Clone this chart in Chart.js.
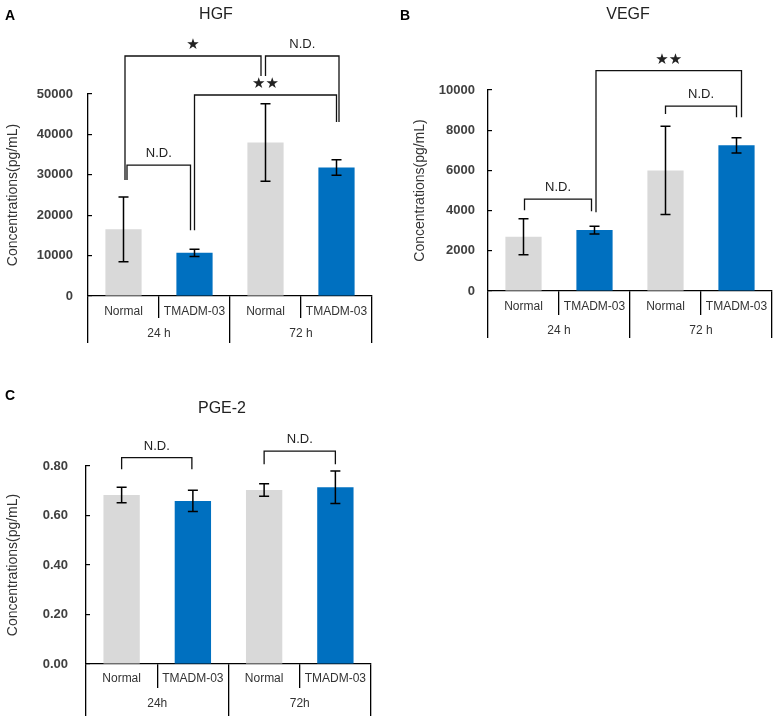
<!DOCTYPE html>
<html>
<head>
<meta charset="utf-8">
<script src="https://cdn.jsdelivr.net/npm/chart.js@4.4.1/dist/chart.umd.min.js"></script>
<style>
    body { margin: 0; background: #fff; width: 777px; height: 716px; position: relative; overflow: hidden; }
    canvas { position: absolute; }
    #chartA { left: 0; top: 0; }
    #chartB { left: 390px; top: 0; }
    #chartC { left: 0; top: 380px; }
</style>
</head>
<body>
<canvas id="chartA" width="390" height="360"></canvas>
<canvas id="chartB" width="387" height="360"></canvas>
<canvas id="chartC" width="390" height="336"></canvas>
<script>
// Categories
const groupLabels = ['Normal', 'TMADM-03', 'Normal', 'TMADM-03'];
const timeLabels = ['24 h', '72 h'];
const timeLabelsPge = ['24h', '72h'];

// Series values (mean and error)
const hgfMean = [16500, 10700, 38000, 31800];
const hgfErr = [8000, 900, 9600, 1900];
const vegfMean = [2700, 3030, 6000, 7250];
const vegfErr = [900, 190, 2200, 380];
const pgeMean = [0.683, 0.659, 0.703, 0.714];
const pgeErr = [0.031, 0.043, 0.025, 0.066];

// Tick labels
const hgfTicks = [0, 10000, 20000, 30000, 40000, 50000];
const vegfTicks = [0, 2000, 4000, 6000, 8000, 10000];
const pgeTicks = [0, 0.2, 0.4, 0.6, 0.8];

// Significance brackets: [from bar, to bar, bracket level, left leg end, right leg end, label]
const hgfBrackets = [
    [0, 1, 32400, 28700, 16300, 'N.D.'],
    [0, 2, 59400, 28700, 54450, '★'],
    [2, 3, 59400, 54450, 43100, 'N.D.'],
    [1, 3, 49750, 16300, 43100, '★★']
];
const vegfBrackets = [
    [0, 1, 4570, 4020, 3970, 'N.D.'],
    [1, 3, 10960, 3920, 8650, '★★'],
    [2, 3, 9200, 8800, 8650, 'N.D.']
];
const pgeBrackets = [
    [0, 1, 0.8335, 0.7867, 0.7867, 'N.D.'],
    [2, 3, 0.8605, 0.8069, 0.8069, 'N.D.']
];

const FONT = '"Liberation Sans", Arial, sans-serif';
const BAR_COLORS = ['#D9D9D9', '#0070C0', '#D9D9D9', '#0070C0'];

// Build one panel
function buildPanel(canvasId, d, st) {
    const extras = {
        id: 'extras_' + canvasId,
        afterDatasetsDraw(chart) {
            const ctx = chart.ctx;
            const xs = chart.scales.x;
            const ys = chart.scales.y;
            ctx.save();

            // Error bars
            ctx.strokeStyle = '#000';
            ctx.lineWidth = 1.5;
            d.mean.forEach((m, i) => {
                const cx = xs.getPixelForValue(i);
                const t = ys.getPixelForValue(m + d.err[i]);
                const b = ys.getPixelForValue(m - d.err[i]);
                ctx.beginPath();
                ctx.moveTo(cx, t); ctx.lineTo(cx, b);
                ctx.moveTo(cx - 5, t); ctx.lineTo(cx + 5, t);
                ctx.moveTo(cx - 5, b); ctx.lineTo(cx + 5, b);
                ctx.stroke();
            });

            // Brackets
            ctx.lineWidth = 1.3;
            ctx.strokeStyle = '#111';
            d.brackets.forEach((br, k) => {
                const [i, j, level, endI, endJ, label] = br;
                const shift = st.legShift[k] || [0, 0];
                const x1 = xs.getPixelForValue(i) + shift[0];
                const x2 = xs.getPixelForValue(j) + shift[1];
                const yl = ys.getPixelForValue(level);
                ctx.beginPath();
                ctx.moveTo(x1, ys.getPixelForValue(endI));
                ctx.lineTo(x1, yl);
                ctx.lineTo(x2, yl);
                ctx.lineTo(x2, ys.getPixelForValue(endJ));
                ctx.stroke();
                ctx.textAlign = 'center';
                ctx.fillStyle = '#222';
                if (label.startsWith('★')) {
                    ctx.font = '15px "DejaVu Sans"';
                    ctx.textBaseline = 'middle';
                    ctx.fillText(label, (x1 + x2) / 2, yl - 11);
                } else {
                    ctx.font = '13px ' + FONT;
                    ctx.textBaseline = 'alphabetic';
                    ctx.fillText(label, (x1 + x2) / 2, yl - 8);
                }
            });

            // Panel letter and title
            ctx.textBaseline = 'alphabetic';
            ctx.textAlign = 'left';
            ctx.fillStyle = '#000';
            ctx.font = 'bold 14px ' + FONT;
            ctx.fillText(st.letter, st.letterX, 20);
            ctx.textAlign = 'center';
            ctx.textBaseline = 'middle';
            ctx.fillStyle = '#222';
            ctx.font = '16px ' + FONT;
            ctx.fillText(st.title, st.titleX, st.titleY);
            ctx.restore();
        }
    };

    return new Chart(document.getElementById(canvasId), {
        type: 'bar',
        data: {
            labels: groupLabels,
            datasets: [{
                data: d.mean,
                backgroundColor: BAR_COLORS,
                barPercentage: 0.51,
                categoryPercentage: 1
            }]
        },
        options: {
            responsive: false,
            animation: false,
            layout: {
                padding: { left: 0, right: st.padRight, top: st.areaTop, bottom: 0 }
            },
            plugins: {
                legend: { display: false },
                tooltip: { enabled: false }
            },
            scales: {
                x: {
                    weight: 1,
                    offset: true,
                    afterFit: s => { s.height = st.xHeight; },
                    grid: { offset: true, drawOnChartArea: false, tickLength: st.xHeight, color: '#000', lineWidth: 1.3 },
                    border: { display: true, color: '#000', width: 1.3 },
                    ticks: {
                        autoSkip: false, maxRotation: 0, padding: st.xPad,
                        color: '#333', font: { family: FONT, size: 12 }
                    }
                },
                x2: {
                    type: 'category',
                    position: 'bottom',
                    weight: 2,
                    labels: d.times,
                    offset: true,
                    afterFit: s => { s.height = st.x2Height; },
                    grid: { offset: true, drawOnChartArea: false, tickLength: st.x2Tick, color: '#000', lineWidth: 1.3 },
                    border: { display: false },
                    ticks: {
                        autoSkip: false, maxRotation: 0, padding: st.x2Pad,
                        color: '#333', font: { family: FONT, size: 12 }
                    }
                },
                y: {
                    min: 0,
                    max: d.ticks[d.ticks.length - 1],
                    afterFit: s => { s.width = st.yWidth; },
                    afterBuildTicks: s => { s.ticks = d.ticks.map(v => ({ value: v })); },
                    grid: { display: true, drawOnChartArea: false, drawTicks: true, tickLength: -4, color: '#000', lineWidth: 1.2 },
                    border: { display: true, color: '#000', width: 1.3 },
                    ticks: {
                        padding: st.yPad,
                        color: '#404040',
                        font: { family: FONT, size: 13, weight: 'bold' },
                        callback: v => Number(v).toFixed(st.decimals)
                    },
                    title: {
                        display: true,
                        text: 'Concentrations(pg/mL)',
                        color: '#333',
                        font: { family: FONT, size: 14 },
                        padding: { top: st.yTitlePad, bottom: 0 }
                    }
                }
            }
        },
        plugins: [extras]
    });
}

buildPanel('chartA',
    { mean: hgfMean, err: hgfErr, ticks: hgfTicks, times: timeLabels, brackets: hgfBrackets },
    {
        letter: 'A', letterX: 5, title: 'HGF', titleX: 216, titleY: 15,
        areaTop: 94, padRight: 18, yWidth: 88, yPad: 19, yTitlePad: 5, decimals: 0,
        xHeight: 22, xPad: -14, x2Height: 42, x2Tick: 25, x2Pad: -17,
        legShift: [[3.5, -4], [1.5, -4.5], [0, 2.5], [0, 0]]
    });

buildPanel('chartB',
    { mean: vegfMean, err: vegfErr, ticks: vegfTicks, times: timeLabels, brackets: vegfBrackets },
    {
        letter: 'B', letterX: 10, title: 'VEGF', titleX: 238, titleY: 15,
        areaTop: 90, padRight: 5, yWidth: 98, yPad: 17, yTitlePad: 21.6, decimals: 0,
        xHeight: 24, xPad: -16, x2Height: 45, x2Tick: 23, x2Pad: -15,
        legShift: [[1, -3], [1.5, 5], [0, 0]]
    });

buildPanel('chartC',
    { mean: pgeMean, err: pgeErr, ticks: pgeTicks, times: timeLabelsPge, brackets: pgeBrackets },
    {
        letter: 'C', letterX: 5, title: 'PGE-2', titleX: 222, titleY: 29,
        areaTop: 86, padRight: 19, yWidth: 86, yPad: 22, yTitlePad: 4.6, decimals: 2,
        xHeight: 24, xPad: -17, x2Height: 28, x2Tick: 28, x2Pad: -20,
        legShift: [[0, -1], [0, 0]]
    });
</script>
</body>
</html>
